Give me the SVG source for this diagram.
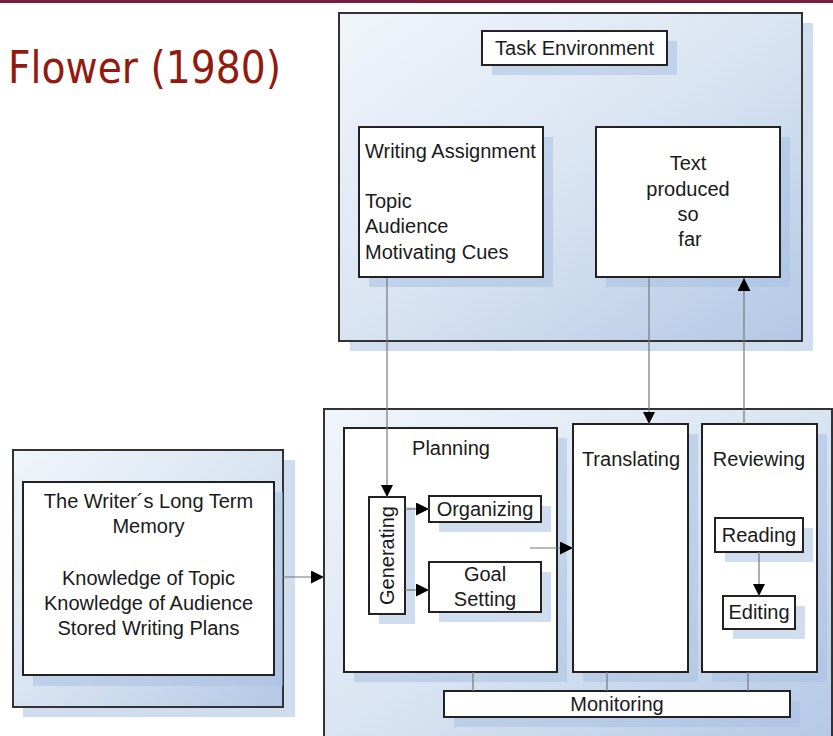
<svg xmlns="http://www.w3.org/2000/svg" width="833" height="736" viewBox="0 0 833 736">
<defs>
<linearGradient id="bg" x1="0" y1="0" x2="1" y2="1">
<stop offset="0" stop-color="#f1f5fb"/>
<stop offset="0.5" stop-color="#d9e4f2"/>
<stop offset="1" stop-color="#b3c8e5"/>
</linearGradient>
<marker id="ah" viewBox="0 0 10 10" refX="10" refY="5" markerWidth="12" markerHeight="12" markerUnits="userSpaceOnUse" orient="auto">
<path d="M0,0 L10,5 L0,10 z" fill="#000"/>
</marker>
<marker id="ahL" viewBox="0 0 10 10" refX="10" refY="5" markerWidth="15" markerHeight="13" markerUnits="userSpaceOnUse" orient="auto">
<path d="M0,0 L10,5 L0,10 z" fill="#000"/>
</marker>
</defs>
<style>
.cont{fill:url(#bg);stroke:#333;stroke-width:2}
.box{fill:#fff;stroke:#222;stroke-width:2}
.sh{fill:#a9c1e2;opacity:0.55}
.t{font-family:"Liberation Sans",Arial,sans-serif;font-size:20px;fill:#1a1a1a}
.c{text-anchor:middle}
.ln{fill:none;stroke:#777;stroke-width:1.2}
</style>
<rect x="0" y="0" width="833" height="3" fill="#7b1e3e"/>
<text x="8" y="83" font-family="'DejaVu Sans',Tahoma,sans-serif" font-size="44" fill="#931a0f" textLength="273" lengthAdjust="spacingAndGlyphs">Flower (1980)</text>

<g id="task-environment">
<rect class="sh" x="350" y="23" width="463" height="328"/>
<rect class="cont" x="339" y="13" width="463" height="328"/>
</g>
<g id="task-environment-label">
<rect class="sh" x="492" y="41" width="185" height="34"/>
<rect class="box" x="482" y="31" width="185" height="34"/>
<text class="t c" x="574.5" y="55">Task Environment</text>
</g>
<g id="writing-assignment">
<rect class="sh" x="369" y="137" width="184" height="150"/>
<rect class="box" x="359" y="127" width="184" height="150"/>
<text class="t" x="365" y="158">Writing Assignment</text>
<text class="t" x="365" y="208">Topic</text>
<text class="t" x="365" y="233">Audience</text>
<text class="t" x="365" y="259">Motivating Cues</text>
</g>
<g id="text-produced">
<rect class="sh" x="606" y="137" width="184" height="150"/>
<rect class="box" x="596" y="127" width="184" height="150"/>
<text class="t c" x="688" y="170">Text</text>
<text class="t c" x="688" y="196">produced</text>
<text class="t c" x="688" y="221">so</text>
<text class="t c" x="690" y="246">far</text>
</g>

<g id="process">
<rect class="sh" x="334" y="419" width="510" height="330"/>
<rect class="cont" x="324" y="409" width="508" height="340"/>
</g>
<g id="planning">
<rect class="sh" x="354" y="438" width="213" height="244"/>
<rect class="box" x="344" y="428" width="213" height="244"/>
<text class="t c" x="451" y="455">Planning</text>
</g>
<g id="generating">
<rect class="sh" x="379" y="507" width="36" height="117"/>
<rect class="box" x="369" y="497" width="36" height="117"/>
<text class="t c" transform="translate(394,555.5) rotate(-90)" x="0" y="0">Generating</text>
</g>
<g id="organizing">
<rect class="sh" x="439" y="506" width="112" height="26"/>
<rect class="box" x="429" y="496" width="112" height="26"/>
<text class="t c" x="485" y="516">Organizing</text>
</g>
<g id="goal-setting">
<rect class="sh" x="439" y="572" width="112" height="50"/>
<rect class="box" x="429" y="562" width="112" height="50"/>
<text class="t c" x="485" y="581">Goal</text>
<text class="t c" x="485" y="606">Setting</text>
</g>
<g id="translating">
<rect class="sh" x="583" y="434" width="115" height="248"/>
<rect class="box" x="573" y="424" width="115" height="248"/>
<text class="t c" x="631" y="466">Translating</text>
</g>
<g id="reviewing">
<rect class="sh" x="712" y="434" width="115" height="248"/>
<rect class="box" x="702" y="424" width="115" height="248"/>
<text class="t c" x="759" y="466">Reviewing</text>
</g>
<g id="reading">
<rect class="sh" x="725" y="528" width="88" height="34"/>
<rect class="box" x="715" y="518" width="88" height="34"/>
<text class="t c" x="759" y="542">Reading</text>
</g>
<g id="editing">
<rect class="sh" x="733" y="606" width="72" height="33"/>
<rect class="box" x="723" y="596" width="72" height="33"/>
<text class="t c" x="759" y="619">Editing</text>
</g>

<g id="long-term-memory">
<rect class="sh" x="23" y="460" width="272" height="257"/>
<rect class="cont" x="13" y="450" width="270" height="257"/>
<rect class="sh" x="33" y="492" width="250" height="194"/>
<rect class="box" x="23" y="482" width="251" height="193"/>
<text class="t c" x="148.5" y="508">The Writer´s Long Term</text>
<text class="t c" x="148.5" y="533">Memory</text>
<text class="t c" x="148.5" y="585">Knowledge of Topic</text>
<text class="t c" x="148.5" y="610">Knowledge of Audience</text>
<text class="t c" x="148.5" y="635">Stored Writing Plans</text>
</g>

<g id="monitoring">
<rect class="sh" x="454" y="701" width="346" height="26"/>
<rect class="box" x="444" y="691" width="346" height="26"/>
<text class="t c" x="617" y="711">Monitoring</text>
</g>

<g id="connectors">
<line class="ln" x1="387" y1="278" x2="387" y2="497" marker-end="url(#ah)"/>
<line class="ln" x1="649" y1="278" x2="649" y2="424" marker-end="url(#ah)"/>
<line class="ln" x1="744" y1="424" x2="744" y2="278" marker-end="url(#ahL)"/>
<line class="ln" x1="283" y1="577" x2="324" y2="577" marker-end="url(#ahL)"/>
<line class="ln" x1="405" y1="509" x2="429" y2="509" marker-end="url(#ahL)"/>
<line class="ln" x1="405" y1="590" x2="429" y2="590" marker-end="url(#ahL)"/>
<line class="ln" x1="530" y1="548" x2="573" y2="548" marker-end="url(#ahL)"/>
<line class="ln" x1="759" y1="552" x2="759" y2="596" marker-end="url(#ah)"/>
<line class="ln" x1="473" y1="672" x2="473" y2="691"/>
<line class="ln" x1="607" y1="672" x2="607" y2="691"/>
<line class="ln" x1="748" y1="672" x2="748" y2="691"/>
</g>
</svg>
